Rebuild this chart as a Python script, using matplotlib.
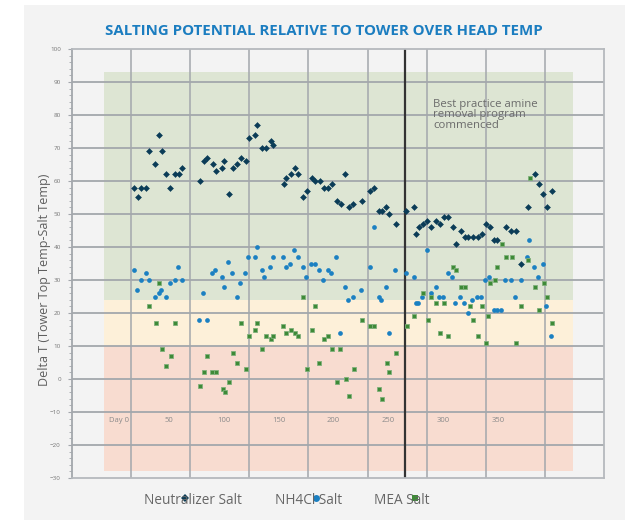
import matplotlib
matplotlib.use('Agg')
import matplotlib.pyplot as plt
from matplotlib.patches import Rectangle
from matplotlib.lines import Line2D

plt.rcParams['font.family'] = ['Open Sans', 'DejaVu Sans']

# data (day, delta T)
neut_day = [18, 22, 24, 29, 32, 37, 41, 44, 47, 51, 55, 59, 62, 78, 82, 85, 90, 93, 98, 100,
            105, 108, 112, 116, 120, 123, 128, 130, 135, 138, 143, 145, 155, 157, 161, 165,
            168, 172, 176, 180, 183, 188, 191, 195, 199, 203, 207, 210, 214, 218, 226, 233,
            237, 241, 244, 248, 251, 257, 266, 273, 275, 278, 282, 285, 289, 293, 297, 301,
            304, 309, 312, 316, 320, 323, 327, 332, 335, 339, 343, 346, 349, 357, 362, 366,
            371, 377, 384, 387, 391, 395, 399]
neut_val = [58, 55, 58, 58, 69, 65, 74, 69, 62, 58, 62, 62, 64, 60, 66, 67, 65, 63, 64, 66,
            56, 64, 65, 67, 66, 73, 74, 77, 70, 70, 72, 71, 59, 61, 62, 64,
            62, 55, 57, 61, 60, 60, 58, 58, 59, 54, 53, 62, 52, 53, 54, 57,
            58, 51, 51, 52, 50, 47, 51, 52, 44, 46, 47, 48, 46, 48, 47, 49,
            49, 46, 41, 45, 43, 43, 43, 43, 44, 47, 46, 42, 42, 46, 45, 45,
            35, 52, 62, 59, 56, 52, 57]

nh4_day = [18, 21, 24, 29, 32, 37, 41, 43, 47, 51, 55, 58, 62, 77, 81, 85, 89, 92, 98, 100,
           104, 107, 112, 115, 119, 122, 128, 130, 135, 137, 142, 145, 154, 157, 160, 164,
           168, 172, 175, 179, 183, 187, 190, 195, 198, 202, 206, 210, 213, 218, 225, 233,
           237, 241, 243, 248, 251, 256, 266, 273, 275, 277, 281, 285, 289, 293, 296, 300,
           304, 308, 311, 315, 319, 323, 326, 331, 334, 338, 342, 346, 349, 353, 356, 362,
           365, 371, 376, 378, 383, 386, 391, 394, 398]
nh4_val = [33, 27, 30, 32, 30, 25, 26, 27, 25, 29, 30, 34, 30, 18, 26, 18, 32, 33, 31, 28,
           35.5, 32, 25, 29, 32, 37, 37, 40, 33, 31, 34, 37, 37, 34, 35, 39,
           37, 34, 31, 35, 35, 33, 30, 33, 32, 37, 14, 28, 24, 25, 27, 34,
           46, 25, 24, 28, 14, 33, 32, 31, 23, 23, 25, 39, 26, 28, 25, 25,
           32, 31, 23, 25, 23, 20, 24, 25, 25, 30, 31, 21, 21, 21, 30, 30,
           25, 30, 37, 42, 34, 31, 35, 22, 13]

mea_day = [32, 38, 41, 44, 47, 52, 55, 78, 82, 85, 89, 93, 99, 101, 105, 108, 112, 116, 120,
           123, 128, 130, 135, 138, 143, 145, 154, 157, 161, 165, 168, 172, 176, 180, 183,
           187, 191, 195, 199, 203, 206, 211, 214, 219, 226, 233, 237, 241, 244, 249, 251,
           257, 267, 273, 282, 286, 289, 293, 297, 301, 304, 309, 312, 316, 320, 324, 327,
           332, 335, 339, 341, 343, 347, 349, 354, 357, 363, 366, 371, 377, 379, 384, 387,
           392, 395, 399]
mea_val = [22, 17, 29, 9, 4, 7, 17, -2, 2, 7, 2, 2, -3, -4, -1, 8, 5, 17, 3,
           13, 15, 17, 9, 13, 12, 13, 16, 14, 15, 14, 13, 25, 3, 15, 22,
           5, 12, 13, 9, -1, 9, 0, -5, 3, 18, 16, 16, -3, -6, 5, 2,
           8, 16, 19, 26, 18, 25, 23, 14, 23, 13, 34, 33, 28, 28, 22, 18,
           13, 22, 11, 19, 29, 30, 34, 41, 37, 37, 11, 22, 36, 61, 28, 21,
           29, 25, 17]

# shaded zones: (bottom, top, colour)
zones = [(24, 93, '#dde5d3'), (10, 24, '#fdf0d9'), (-28, 10, '#f8dcd0')]
zone_x = (-9.3, 418.2)

grid_x = [14.9, 68.7, 122.5, 176.7, 231.0, 285.2, 339.0, 392.8]
day_ticks = [0, 50, 100, 150, 200, 250, 300, 350]
program_day = 265.2

fig = plt.figure(figsize=(6.25, 5.2), dpi=100)
fig.patch.set_facecolor('white')
fig.patches.append(Rectangle((24 / 625, 0), 1, 1 - 5 / 520, transform=fig.transFigure,
                             facecolor='#f3f3f3', edgecolor='none', zorder=-10))

ax = fig.add_axes([72 / 625, 1 - 478 / 520, 532 / 625, 429 / 520])
ax.set_facecolor('#f3f3f3')
ax.set_xlim(-38.5, 446.6)
ax.set_ylim(-30, 100)

for lo, hi, c in zones:
    ax.fill_between(zone_x, lo, hi, color=c, lw=0, zorder=0)

gc = '#a3a7ac'
for y in range(-20, 100, 10):
    ax.axhline(y, color=gc, lw=1.3, zorder=1)
for x in grid_x:
    ax.axvline(x, color=gc, lw=1.1, zorder=1)
ax.axvline(program_day, color='#333333', lw=1.6, zorder=2)

for s in ax.spines.values():
    s.set_color('#b5b9bd')
    s.set_linewidth(1.3)
ax.spines['left'].set_color('#a3a7ac')

ax.set_xticks([])
ax.set_yticks(range(-30, 101, 10))
ax.set_yticks(range(-30, 101, 2), minor=True)
ax.tick_params(axis='y', which='major', labelsize=4.5, labelcolor='#777777',
               color='#a3a7ac', length=3, width=0.8, pad=5)
ax.tick_params(axis='y', which='minor', color='#a3a7ac', length=2, width=0.6)

for d in day_ticks:
    lab = 'Day 0' if d == 0 else str(d)
    ax.text(d + (4 if d == 0 else 0), -12.5, lab, ha='center', va='center',
            fontsize=5.5, color='#8a8a8a', zorder=3)

ax.plot(neut_day, neut_val, 'D', color='#0b3c57', ms=3.0, mew=0.4, mec='#0b3c57',
        ls='none', zorder=5)
ax.plot(nh4_day, nh4_val, 'o', color='#1b80c2', ms=3.4, mew=0, ls='none', zorder=4)
ax.plot(mea_day, mea_val, 's', color='#3e8a37', ms=3.4, mew=0.6, mec='#7fb07a',
        ls='none', zorder=4)

ax.text(290.7, 85, 'Best practice amine\nremoval program\ncommenced', ha='left', va='top',
        fontsize=8.2, color='#6b6b6b', linespacing=0.95, zorder=6)

fig.text(324 / 625, 1 - 31 / 520, 'SALTING POTENTIAL RELATIVE TO TOWER OVER HEAD TEMP',
         ha='center', va='center', fontsize=10.8, fontweight='bold', color='#1b7dc0')
fig.text(45 / 625, 1 - 280 / 520, 'Delta T (Tower Top Temp-Salt Temp)', rotation=90,
         ha='center', va='center', fontsize=9, color='#5e5e5e')

# legend at the bottom, markers sit on top of the text like the original
legend_items = [('Neutralizer Salt', 144, 185, 'D', '#0b3c57'),
                ('NH4Cl Salt', 275, 316, 'o', '#1b80c2'),
                ('MEA Salt', 374, 415, 's', '#3e8a37')]
for lab, tx, mx, m, c in legend_items:
    fig.text(tx / 625, 1 - 500 / 520, lab, ha='left', va='center', fontsize=9.8,
             color='#666666')
    fig.add_artist(Line2D([mx / 625], [1 - 498 / 520], marker=m, color=c,
                          ms=(3.8 if m == 'D' else 5), mew=0, ls='none',
                          transform=fig.transFigure))

fig.savefig('out.png', dpi=100, facecolor=fig.get_facecolor())
